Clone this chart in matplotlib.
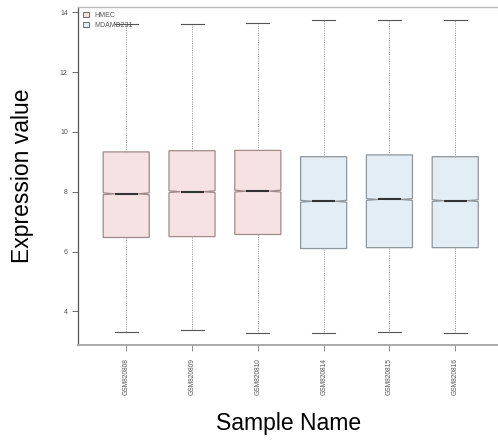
import matplotlib
matplotlib.use("Agg")
import matplotlib.pyplot as plt
from matplotlib.patches import Patch

plt.rcParams['font.family'] = ['Liberation Sans', 'DejaVu Sans']

samples = ["GSM820808", "GSM820809", "GSM820810", "GSM820814", "GSM820815", "GSM820816"]
groups = ["HMEC", "HMEC", "HMEC", "MDAMB231", "MDAMB231", "MDAMB231"]
whislo = [3.30, 3.39, 3.29, 3.29, 3.32, 3.29]
q1 = [6.47, 6.50, 6.57, 6.10, 6.13, 6.13]
med = [7.93, 8.00, 8.02, 7.68, 7.74, 7.70]
q3 = [9.33, 9.37, 9.38, 9.17, 9.23, 9.17]
whishi = [13.60, 13.60, 13.63, 13.73, 13.75, 13.75]
ci_half = 0.03

group_colors = {"HMEC": "#f6e2e2", "MDAMB231": "#e2edf6"}
group_edges = {"HMEC": "#a08a8a", "MDAMB231": "#8f969c"}

stats = []
for i, s in enumerate(samples):
    stats.append(dict(label=s, whislo=whislo[i], q1=q1[i], med=med[i], q3=q3[i],
                      whishi=whishi[i], cilo=med[i] - ci_half, cihi=med[i] + ci_half,
                      fliers=[]))

fig = plt.figure(figsize=(4.98, 4.42), dpi=100)
ax = fig.add_axes([0.157, 0.219, 0.843, 0.765])

positions = list(range(1, len(samples) + 1))
bp = ax.bxp(stats, positions=positions, widths=0.7, shownotches=True,
            patch_artist=True, showfliers=False, capwidths=0.35,
            whiskerprops=dict(color="#a0a0a0", linestyle=(0, (1.2, 1.2)), linewidth=0.7),
            capprops=dict(color="#555555", linewidth=0.8),
            medianprops=dict(color="#333333", linewidth=1.5))

for box, g in zip(bp['boxes'], groups):
    box.set_facecolor(group_colors[g])
    box.set_edgecolor(group_edges[g])
    box.set_linewidth(0.9)

ax.set_xlim(0.27, 6.65)
ax.set_ylim(2.87, 14.17)
ax.set_yticks([4, 6, 8, 10, 12, 14])
ax.set_xticks(positions)
ax.set_xticklabels(samples, rotation=90, fontsize=4.8)
ax.tick_params(axis='y', labelsize=5, colors="#555555", length=4, width=0.6)
ax.tick_params(axis='x', length=4, width=0.6, colors="#777777", pad=5)
for lbl in ax.get_xticklabels():
    lbl.set_color("#555555")
for lbl in ax.get_yticklabels():
    lbl.set_color("#555555")

ax.spines['right'].set_visible(False)
ax.spines['left'].set_color("#555555")
ax.spines['left'].set_linewidth(0.9)
ax.spines['bottom'].set_color("#aaaaaa")
ax.spines['bottom'].set_linewidth(1.4)
ax.spines['top'].set_color("#bbbbbb")
ax.spines['top'].set_linewidth(1.0)

ax.set_ylabel("Expression value", fontsize=16.5)
ax.set_xlabel("Sample Name", fontsize=16.5)
ax.yaxis.set_label_coords(-0.133, 0.5)
ax.xaxis.set_label_coords(0.5, -0.231)
ax.xaxis.label.set_va("center")
ax.yaxis.label.set_va("center")

handles = [Patch(facecolor=group_colors[g], edgecolor="#555555", linewidth=0.6, label=g)
           for g in ["HMEC", "MDAMB231"]]
ax.legend(handles=handles, loc="upper left", frameon=False, fontsize=5,
          handlelength=0.8, handleheight=0.8, handletextpad=0.8, labelspacing=0.4,
          borderaxespad=0.3, bbox_to_anchor=(0.0, 1.0), labelcolor="#555555")

fig.savefig("out.png", dpi=100)
